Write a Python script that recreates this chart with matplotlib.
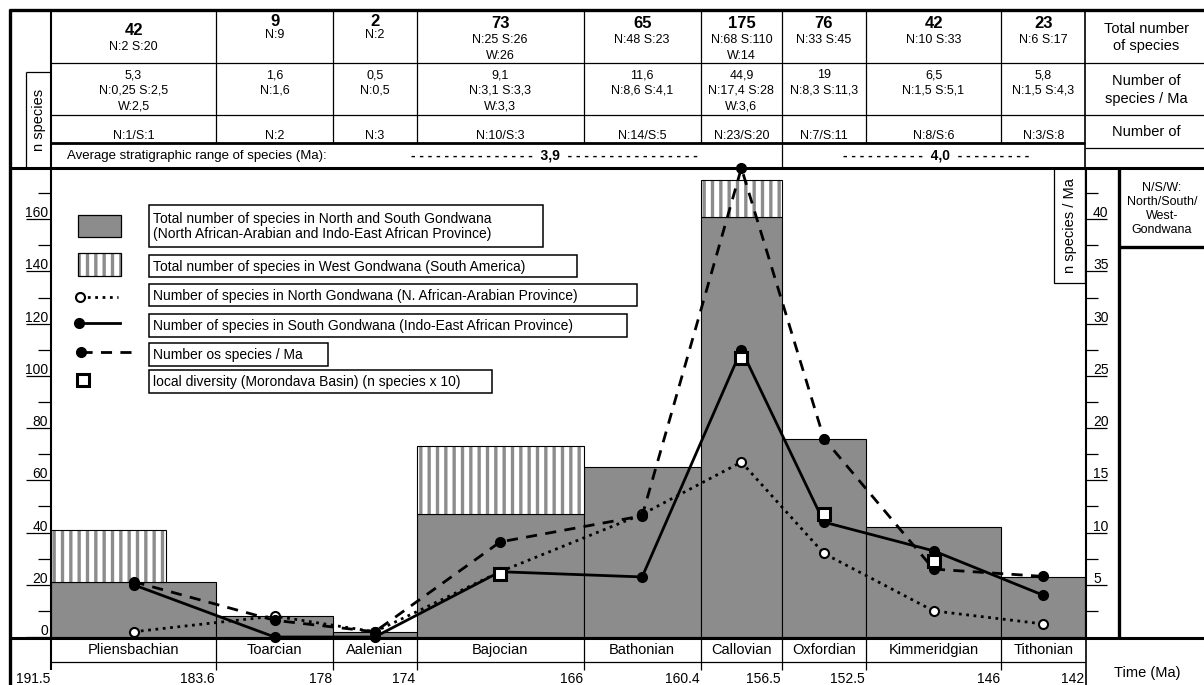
import matplotlib
matplotlib.use("Agg")
import matplotlib.pyplot as plt
from matplotlib.patches import Rectangle
from matplotlib.transforms import blended_transform_factory, offset_copy

# stages and their boundaries (Ma)
stages = ["Pliensbachian", "Toarcian", "Aalenian", "Bajocian", "Bathonian",
          "Callovian", "Oxfordian", "Kimmeridgian", "Tithonian"]
bounds = [191.5, 183.6, 178, 174, 166, 160.4, 156.5, 152.5, 146, 142]
bound_labels = ["191.5", "183.6", "178", "174", "166", "160.4", "156.5", "152.5", "146", "142"]

# grey bars: species in North + South Gondwana
ns_total = [21, 8, 2, 47, 65, 161, 76, 42, 23]
# hatched bars: West Gondwana stacked on top (start, end, top)
w_start = [191.5, 174, 160.4]
w_end = [186, 166, 156.5]
w_top = [41, 73, 175]
w_base = [21, 47, 161]

north = [2, 8, 2, 25, 47, 67, 32, 10, 5]
south = [20, 0, 0, 25, 23, 110, 44, 33, 16]
per_ma = [5.3, 1.6, 0.5, 9.1, 11.6, 44.9, 19, 6.5, 5.8]
local_stage = [3, 5, 6, 7]
local_div = [24, 107, 47, 29]

# header table
total_txt = ["42", "9", "2", "73", "65", "175", "76", "42", "23"]
total_sub = ["N:2 S:20", "N:9", "N:2", "N:25 S:26\nW:26", "N:48 S:23",
             "N:68 S:110\nW:14", "N:33 S:45", "N:10 S:33", "N:6 S:17"]
rate_txt = ["5,3\nN:0,25 S:2,5\nW:2,5", "1,6\nN:1,6", "0,5\nN:0,5",
            "9,1\nN:3,1 S:3,3\nW:3,3", "11,6\nN:8,6 S:4,1",
            "44,9\nN:17,4 S:28\nW:3,6", "19\nN:8,3 S:11,3",
            "6,5\nN:1,5 S:5,1", "5,8\nN:1,5 S:4,3"]
local_txt = ["N:1/S:1", "N:2", "N:3", "N:10/S:3", "N:14/S:5",
             "N:23/S:20", "N:7/S:11", "N:8/S:6", "N:3/S:8"]
avg_range = ["3,9", "4,0"]

legend_labels = [
    "Total number of species in North and South Gondwana\n(North African-Arabian and Indo-East African Province)",
    "Total number of species in West Gondwana (South America)",
    "Number of species in North Gondwana (N. African-Arabian Province)",
    "Number of species in South Gondwana (Indo-East African Province)",
    "Number os species / Ma",
    "local diversity (Morondava Basin) (n species x 10)",
]

GREY = "#8c8c8c"
plt.rcParams["font.family"] = ["Liberation Sans", "DejaVu Sans"]
plt.rcParams["hatch.linewidth"] = 2.4

W, H = 1204, 685
fig = plt.figure(figsize=(W / 100, H / 100), dpi=100)


def px_box(x0, y0, x1, y1):
    return [x0 / W, 1 - y1 / H, (x1 - x0) / W, (y1 - y0) / H]


ax = fig.add_axes(px_box(51, 167, 1085, 637))
ax2 = ax.twinx()
bg = fig.add_axes([0, 0, 1, 1], zorder=5)
bg.set_xlim(0, W)
bg.set_ylim(H, 0)
bg.axis("off")
bg.patch.set_visible(False)

mids = [(a + b) / 2 for a, b in zip(bounds[:-1], bounds[1:])]
widths = [a - b for a, b in zip(bounds[:-1], bounds[1:])]

ax.set_xlim(bounds[0], bounds[-1])
ax.set_ylim(0, 180)
ax2.set_ylim(0, 45)
for a in (ax, ax2):
    for s in a.spines.values():
        s.set_visible(False)
ax.set_xticks([])
ax.set_yticks(range(0, 161, 20))
ax.set_yticks(range(10, 171, 20), minor=True)
ax.tick_params(axis="y", which="major", length=18, width=0.9, labelleft=False)
ax.tick_params(axis="y", which="minor", length=9.5, width=0.9)
ax2.set_yticks(range(5, 41, 5))
ax2.set_yticks([2.5 + 5 * k for k in range(9)], minor=True)
ax2.tick_params(axis="y", which="major", length=16, width=0.9, labelright=False)
ax2.tick_params(axis="y", which="minor", length=9.5, width=0.9)

# tick labels sitting on top of the tick lines
tl = offset_copy(blended_transform_factory(ax.transAxes, ax.transData), fig=fig, x=-3, y=2, units="dots")
for v in ax.get_yticks():
    ax.text(0, v, f"{v:g}", transform=tl, ha="right", va="baseline", fontsize=10)
tr = offset_copy(blended_transform_factory(ax2.transAxes, ax2.transData), fig=fig, x=8, y=2, units="dots")
for v in ax2.get_yticks():
    ax2.text(1, v, f"{v:g}", transform=tr, ha="left", va="baseline", fontsize=10)

# bars
ax.bar(mids, ns_total, width=widths, color=GREY, edgecolor="black", linewidth=0.8, zorder=1)
wx = [(a + b) / 2 for a, b in zip(w_start, w_end)]
ww = [a - b for a, b in zip(w_start, w_end)]
wh = [t - b for t, b in zip(w_top, w_base)]
ax.bar(wx, wh, width=ww, bottom=w_base, color="white", edgecolor=GREY, hatch="||", linewidth=0, zorder=1)
ax.bar(wx, wh, width=ww, bottom=w_base, fill=False, edgecolor="black", linewidth=0.8, zorder=1.1)

# lines
ax.plot(mids, north, ls=":", lw=2, color="black", marker="o", ms=6.5, mfc="white",
        mec="black", mew=1.5, zorder=3, clip_on=False)
ax.plot(mids, south, ls="-", lw=2, color="black", marker="o", ms=7, zorder=3, clip_on=False)
ax2.plot(mids, per_ma, ls="--", dashes=(4, 3), lw=2, color="black", marker="o", ms=7,
         zorder=3, clip_on=False)
ax2.plot([mids[i] for i in local_stage], local_div, transform=ax.transData, ls="none",
         marker="s", ms=9, mfc="white", mec="black", mew=2.2, zorder=4, clip_on=False)

# ---- frame and table in pixel coordinates ----
tx = blended_transform_factory(ax.transData, bg.transData)


def hl(y, x0, x1, lw=0.9):
    bg.plot([x0, x1], [y, y], color="black", lw=lw, solid_capstyle="butt")


def vl(x, y0, y1, lw=0.9, trans=None):
    bg.plot([x, x], [y0, y1], color="black", lw=lw, solid_capstyle="butt",
            transform=trans if trans is not None else bg.transData)


hl(10, 9, W, 2.4)
vl(10, 9, H, 2.4)
hl(168, 9, W, 2.2)
hl(637.5, 9, W, 2.2)
hl(63, 51, W)
hl(115, 51, W)
hl(143, 51, 1085, 2.0)
hl(148, 1085, W)
hl(662, 51, 1085)
vl(51, 10, 670, 1.5)
vl(1085, 10, 168, 1.2)
vl(1086, 168, 637, 1.5)
vl(1086, 637, H, 1.2)
vl(1119, 168, 637, 2.4)
hl(247, 1119, W, 2.4)

for b in bounds[1:-1]:
    vl(b, 10, 143, trans=tx)
    vl(b, 637, 670, trans=tx)
vl(156.5, 143, 168, trans=tx)

# "n species" label box
hl(72, 26, 51)
vl(26, 72, 168)
bg.text(39, 120, "n species", rotation=90, ha="center", va="center", fontsize=10.5)

# "n species / Ma" label box
bg.add_patch(Rectangle((1054, 168), 31, 115, fc="white", ec="black", lw=0.9))
bg.text(1070, 226, "n species / Ma", rotation=90, ha="center", va="center", fontsize=10.5)

bg.text(1162, 209, "N/S/W:\nNorth/South/\nWest-\nGondwana", ha="center", va="center",
        fontsize=9, linespacing=1.25)

# right column headers
bg.text(1146, 37.5, "Total number\nof species", ha="center", va="center", fontsize=10.5, linespacing=1.3)
bg.text(1146, 90, "Number of\nspecies / Ma", ha="center", va="center", fontsize=10.5, linespacing=1.3)
bg.text(1146, 132, "Number of", ha="center", va="center", fontsize=10.5)
bg.text(1147, 673, "Time (Ma)", ha="center", va="center", fontsize=10.5)

# header rows
row1_y0 = [30, 21, 21, 23, 23, 23, 23, 23, 23]
row1_gap = [16.5, 13.5, 13.5, 16.5, 16.5, 16.5, 16.5, 16.5, 16.5]
for i, m in enumerate(mids):
    bg.text(m, row1_y0[i], total_txt[i], transform=tx, ha="center", va="center",
            fontsize=12, fontweight="bold")
    for k, line in enumerate(total_sub[i].split("\n")):
        bg.text(m, row1_y0[i] + row1_gap[i] * (k + 1), line, transform=tx,
                ha="center", va="center", fontsize=9)
    for k, line in enumerate(rate_txt[i].split("\n")):
        bg.text(m, 75 + 15.5 * k, line, transform=tx, ha="center", va="center", fontsize=9)
    bg.text(m, 136, local_txt[i], transform=tx, ha="center", va="center", fontsize=9, zorder=1)
    bg.text(m, 650, stages[i], transform=tx, ha="center", va="center", fontsize=10.5)

bg.text(67, 156, "Average stratigraphic range of species (Ma):", ha="left", va="center", fontsize=9.5)
bg.text(556, 155, "- " * 15 + " " + avg_range[0] + "  " + "- " * 16, ha="center", va="center",
        fontsize=10, fontweight="bold")
bg.text(938, 155, "- " * 10 + " " + avg_range[1] + "  " + "- " * 9, ha="center", va="center",
        fontsize=10, fontweight="bold")

for b, lab in zip(bounds, bound_labels):
    bg.text(b, 679, lab, transform=offset_copy(tx, fig=fig, x=-1, y=0, units="dots"),
            ha="right", va="center", fontsize=10)

# ---- legend ----
leg_boxes = [(149, 205, 543, 247), (149, 255, 577, 277), (149, 284, 637, 306),
             (149, 314, 627, 337), (149, 343, 328, 366), (149, 370, 492, 393)]
for (x0, y0, x1, y1), lab in zip(leg_boxes, legend_labels):
    bg.add_patch(Rectangle((x0, y0), x1 - x0, y1 - y0, fc="white", ec="black", lw=1.1))
    bg.text(x0 + 4, (y0 + y1) / 2 + 0.5, lab, ha="left", va="center", fontsize=10, linespacing=1.15)

bg.add_patch(Rectangle((78, 215), 43, 22, fc=GREY, ec="black", lw=0.9))
bg.add_patch(Rectangle((78, 253), 43, 23, fc="white", ec=GREY, hatch="||", lw=0))
bg.add_patch(Rectangle((78, 253), 43, 23, fill=False, ec="black", lw=0.9))
bg.plot([80, 118], [297, 297], ls=":", lw=2, color="black")
bg.plot([80], [297], marker="o", ms=6.5, mfc="white", mec="black", mew=1.5)
bg.plot([79, 120], [323, 323], ls="-", lw=2, color="black", marker="o", ms=7, markevery=[0])
bg.plot([81, 132], [352, 352], ls="--", dashes=(4, 3), lw=2, color="black", marker="o", ms=7,
        markevery=[0])
bg.plot([83], [380], ls="none", marker="s", ms=9, mfc="white", mec="black", mew=2.2)

fig.savefig("out.png", dpi=100)
